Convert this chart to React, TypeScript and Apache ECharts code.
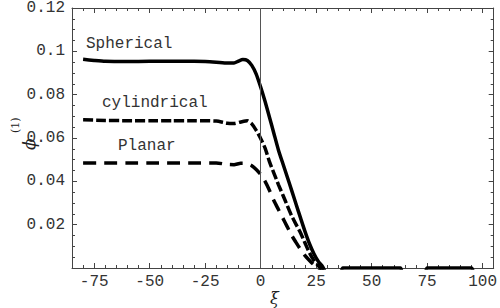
import React, { useEffect, useRef } from "react";
import * as echarts from "echarts";

// ---- data ----
const xiSph = [-80, -75, -70, -60, -50, -40, -30, -25, -20, -15, -12, -10, -8, -6, -4, -2, 0, 2, 4, 6, 8, 10, 12, 14, 16, 18, 20, 22, 24, 26, 28, 30, 36, 37, 63, 64, 74, 75, 95, 96];
const sph = [0.0963, 0.0958, 0.0954, 0.0953, 0.0954, 0.0954, 0.0954, 0.0953, 0.095, 0.0946, 0.0946, 0.0955, 0.0962, 0.0958, 0.0935, 0.0895, 0.0835, 0.0768, 0.0695, 0.062, 0.0545, 0.0482, 0.042, 0.0357, 0.0293, 0.023, 0.0168, 0.0112, 0.0066, 0.003, 0.0005, -0.003, -0.003, 0, 0, -0.003, -0.003, 0, 0, -0.003];

const xiCyl = [-80, -70, -60, -50, -40, -30, -20, -15, -12, -9, -6, -4, -2, 0, 2, 4, 6, 8, 10, 12, 14, 16, 18, 20, 22, 24, 26, 27, 29];
const cyl = [0.0684, 0.0681, 0.068, 0.068, 0.068, 0.068, 0.0678, 0.0668, 0.0667, 0.0674, 0.068, 0.0665, 0.0635, 0.0598, 0.0553, 0.049, 0.0437, 0.0385, 0.0337, 0.0288, 0.024, 0.02, 0.0162, 0.0115, 0.007, 0.0035, 0.001, 0, -0.003];

const xiPla = [-80, -70, -60, -50, -40, -30, -20, -15, -12, -9, -6, -4, -2, 0, 2, 4, 6, 8, 10, 12, 14, 16, 18, 20, 22, 24, 26, 28];
const pla = [0.0485, 0.0485, 0.0485, 0.0485, 0.0485, 0.0485, 0.0485, 0.0478, 0.0477, 0.0483, 0.0482, 0.0472, 0.0455, 0.0432, 0.04, 0.0358, 0.031, 0.027, 0.023, 0.019, 0.015, 0.0117, 0.0085, 0.0057, 0.0035, 0.0015, 0, -0.003];

const xMajor = [-75, -50, -25, 0, 25, 50, 75, 100];
const xMinor = [-85, -80, -75, -70, -65, -60, -55, -50, -45, -40, -35, -30, -25, -20, -15, -10, -5, 0, 5, 10, 15, 20, 25, 30, 35, 40, 45, 50, 55, 60, 65, 70, 75, 80, 85, 90, 95, 100, 105];

const curveLabels = ["Spherical", "cylindrical", "Planar"];

const X_MIN = -85;
const X_MAX = 105;
const Y_MIN = 0;
const Y_MAX = 0.12;

const zip = (xs: number[], ys: number[]) => xs.map((x, i) => [x, ys[i]]);

export default function App() {
  const ref = useRef<HTMLDivElement>(null);
  useEffect(() => {
    document.body.style.margin = "0";
    if (!ref.current) return;
    const chart = echarts.init(ref.current, undefined, { renderer: "svg" });
    const mono = "Liberation Mono";
    const axisColor = "#444";
    const textColor = "#333";
    const xBase = (position: "bottom" | "top", major: boolean, showLabel: boolean) => ({
      type: "value",
      position,
      min: X_MIN,
      max: X_MAX,
      gridIndex: 0,
      splitLine: { show: false },
      axisLine: { show: major, onZero: false, lineStyle: { color: axisColor, width: 1 } },
      axisTick: {
        show: true,
        inside: true,
        length: major ? 5 : 3,
        customValues: major ? xMajor : xMinor,
        lineStyle: { color: axisColor, width: 1 },
      },
      axisLabel: {
        show: showLabel,
        customValues: xMajor,
        fontFamily: mono,
        fontSize: 16,
        color: textColor,
        margin: 6,
      },
    });
    const yBase = (position: "left" | "right", showLabel: boolean) => ({
      type: "value",
      position,
      min: Y_MIN,
      max: Y_MAX,
      interval: 0.02,
      splitLine: { show: false },
      axisLine: { show: true, onZero: false, lineStyle: { color: axisColor, width: 1 } },
      axisTick: { show: true, inside: true, length: 5, lineStyle: { color: axisColor } },
      minorTick: { show: true, splitNumber: 4, length: 3, lineStyle: { color: axisColor } },
      axisLabel: {
        show: showLabel,
        fontFamily: mono,
        fontSize: 16,
        color: textColor,
        margin: 7,
        formatter: (v: number) => (v === 0 ? "" : String(+v.toFixed(2))),
      },
    });
    chart.setOption({
      animation: false,
      backgroundColor: "#fff",
      grid: { left: 72, right: 4, top: 7, bottom: 40, containLabel: false },
      xAxis: [
        xBase("bottom", true, true),
        xBase("bottom", false, false),
        xBase("top", true, false),
        xBase("top", false, false),
      ],
      yAxis: [yBase("left", true), yBase("right", false)],
      series: [
        {
          type: "line",
          name: curveLabels[0],
          data: zip(xiSph, sph),
          showSymbol: false,
          smooth: 0.2,
          clip: true,
          lineStyle: { color: "#000", width: 3.5, type: "solid" },
          markLine: {
            silent: true,
            symbol: ["none", "none"],
            label: { show: false },
            lineStyle: { color: "#555", width: 1, type: "solid" },
            data: [{ xAxis: 0 }],
          },
        },
        {
          type: "line",
          name: curveLabels[1],
          data: zip(xiCyl, cyl),
          showSymbol: false,
          smooth: 0.2,
          clip: true,
          lineStyle: { color: "#000", width: 3.5, type: [10, 3] },
        },
        {
          type: "line",
          name: curveLabels[2],
          data: zip(xiPla, pla),
          showSymbol: false,
          smooth: 0.2,
          clip: true,
          lineStyle: { color: "#000", width: 3.5, type: [13, 8] },
        },
      ],
      graphic: [
        { type: "text", left: 86, top: 36, style: { text: curveLabels[0], font: `16px '${mono}'`, fill: textColor } },
        { type: "text", left: 102, top: 95, style: { text: curveLabels[1], font: `16px '${mono}'`, fill: textColor } },
        { type: "text", left: 118, top: 138, style: { text: curveLabels[2], font: `16px '${mono}'`, fill: textColor } },
        {
          type: "text",
          x: 20,
          y: 150,
          rotation: Math.PI / 2,
          style: { text: "ϕ", font: "italic 17px 'DejaVu Serif'", fill: "#222" },
        },
        {
          type: "text",
          x: 10,
          y: 133,
          rotation: Math.PI / 2,
          style: { text: "(1)", font: "11px 'DejaVu Serif'", fill: "#222" },
        },
        {
          type: "text",
          x: 270,
          y: 290,
          style: { text: "ξ", font: "italic 16px 'DejaVu Serif'", fill: "#222" },
        },
      ],
    });
    return () => chart.dispose();
  }, []);
  return <div ref={ref} style={{ width: 500, height: 308 }} />;
}
